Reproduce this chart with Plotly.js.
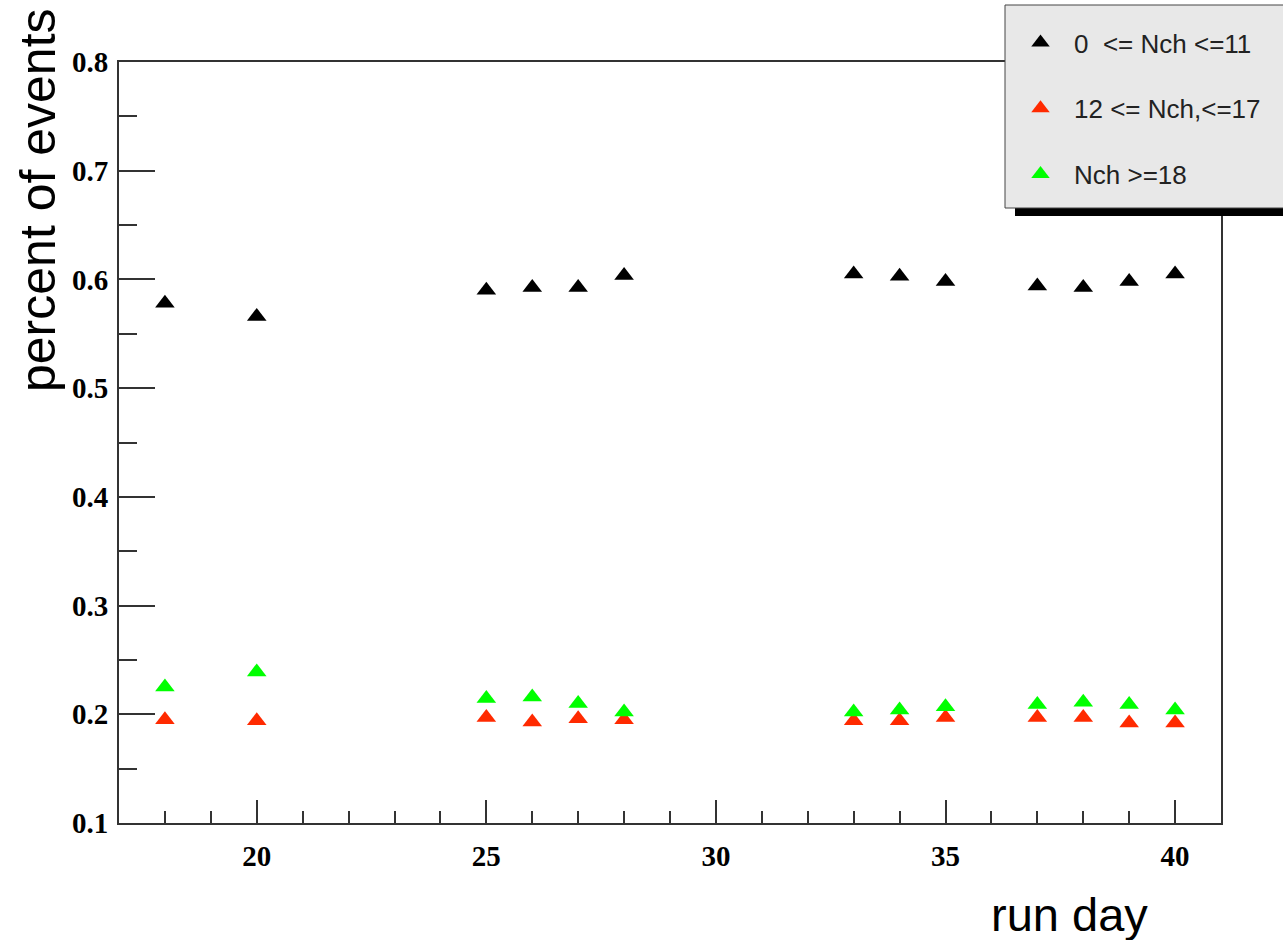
<!DOCTYPE html>
<html>
<head>
<meta charset="utf-8">
<script src="https://cdn.plot.ly/plotly-3.0.1.min.js"></script>
<style>html,body{margin:0;padding:0;background:#fff;}#chart{width:1283px;height:940px;}</style>
</head>
<body>
<div id="chart"></div>
<script>
// Data
var runDays = [18, 20, 25, 26, 27, 28, 33, 34, 35, 37, 38, 39, 40];
var lowNch  = [0.578, 0.566, 0.590, 0.5925, 0.5925, 0.6035, 0.605, 0.603, 0.598, 0.594, 0.5925, 0.598, 0.605];
var midNch  = [0.195, 0.194, 0.197, 0.193, 0.196, 0.195, 0.194, 0.194, 0.197, 0.197, 0.197, 0.192, 0.192];
var highNch = [0.225, 0.239, 0.2145, 0.216, 0.210, 0.202, 0.202, 0.204, 0.207, 0.209, 0.211, 0.209, 0.204];
var seriesNames = ['0 &nbsp;&lt;= Nch &lt;=11', '12 &lt;= Nch,&lt;=17', 'Nch &gt;=18'];
var seriesColors = ['#000000', '#ff2a00', '#00ff00'];
var xTitle = 'run day';
var yTitle = 'percent of events';

var W = 1283, H = 940;
var L = 119, R = 62, T = 62, B = 117;
var pw = W - L - R, ph = H - T - B;
function px(x) { return (x - L) / pw; }
function py(y) { return (H - B - y) / ph; }

var ys = [lowNch, midNch, highNch];
var traces = ys.map(function (v, i) {
  return {
    x: runDays, y: v, type: 'scatter', mode: 'markers',
    name: seriesNames[i], legendgroup: 'g' + i,
    marker: {symbol: 'triangle-up', size: 17, color: seriesColors[i], line: {width: 0}}
  };
});

var axisCommon = {
  showgrid: false, zeroline: false, showline: true, linecolor: '#333', linewidth: 2,
  mirror: true, ticks: 'inside', tickcolor: '#333', tickwidth: 2,
  tickfont: {family: 'Liberation Serif', size: 29, color: '#000', weight: 'bold'}
};

var layout = {
  width: W, height: H,
  margin: {l: L, r: R, t: T, b: B, autoexpand: false},
  paper_bgcolor: '#fff', plot_bgcolor: '#fff',
  showlegend: true,
  xaxis: Object.assign({}, axisCommon, {
    range: [17, 41], tick0: 0, dtick: 5, ticklen: 23,
    ticklabelstandoff: 6,
    minor: {ticks: 'inside', dtick: 1, ticklen: 12, tickcolor: '#333', tickwidth: 2, showgrid: false}
  }),
  yaxis: Object.assign({}, axisCommon, {
    range: [0.1, 0.8], tick0: 0, dtick: 0.1, ticklen: 36, tickformat: '.1f',
    ticklabelstandoff: 3,
    minor: {ticks: 'inside', dtick: 0.05, ticklen: 18, tickcolor: '#333', tickwidth: 2, showgrid: false}
  }),
  legend: {
    x: px(1007), y: py(19), xanchor: 'left', yanchor: 'top',
    bgcolor: 'rgba(0,0,0,0)', borderwidth: 0,
    traceorder: 'grouped', tracegroupgap: 29, itemwidth: 57,
    font: {family: 'Liberation Sans', size: 26, color: '#222'}
  },
  shapes: [
    {type: 'rect', xref: 'paper', yref: 'paper', layer: 'above',
     x0: px(1015), x1: px(1300), y0: py(216), y1: py(13),
     fillcolor: '#000', line: {width: 0}},
    {type: 'rect', xref: 'paper', yref: 'paper', layer: 'above',
     x0: px(1005), x1: px(1295), y0: py(208), y1: py(5),
     fillcolor: '#e8e8e8', line: {color: '#444', width: 1}}
  ],
  annotations: [
    {text: xTitle, xref: 'paper', yref: 'paper', x: px(1150), y: py(914),
     xanchor: 'right', yanchor: 'middle', showarrow: false,
     font: {family: 'Liberation Sans', size: 47, color: '#000'}},
    {text: yTitle, xref: 'paper', yref: 'paper', x: px(38), y: py(200),
     xanchor: 'center', yanchor: 'middle', textangle: -90, showarrow: false,
     font: {family: 'Liberation Sans', size: 50, color: '#000'}}
  ]
};

Plotly.newPlot('chart', traces, layout, {displayModeBar: false, staticPlot: true});
</script>
</body>
</html>
